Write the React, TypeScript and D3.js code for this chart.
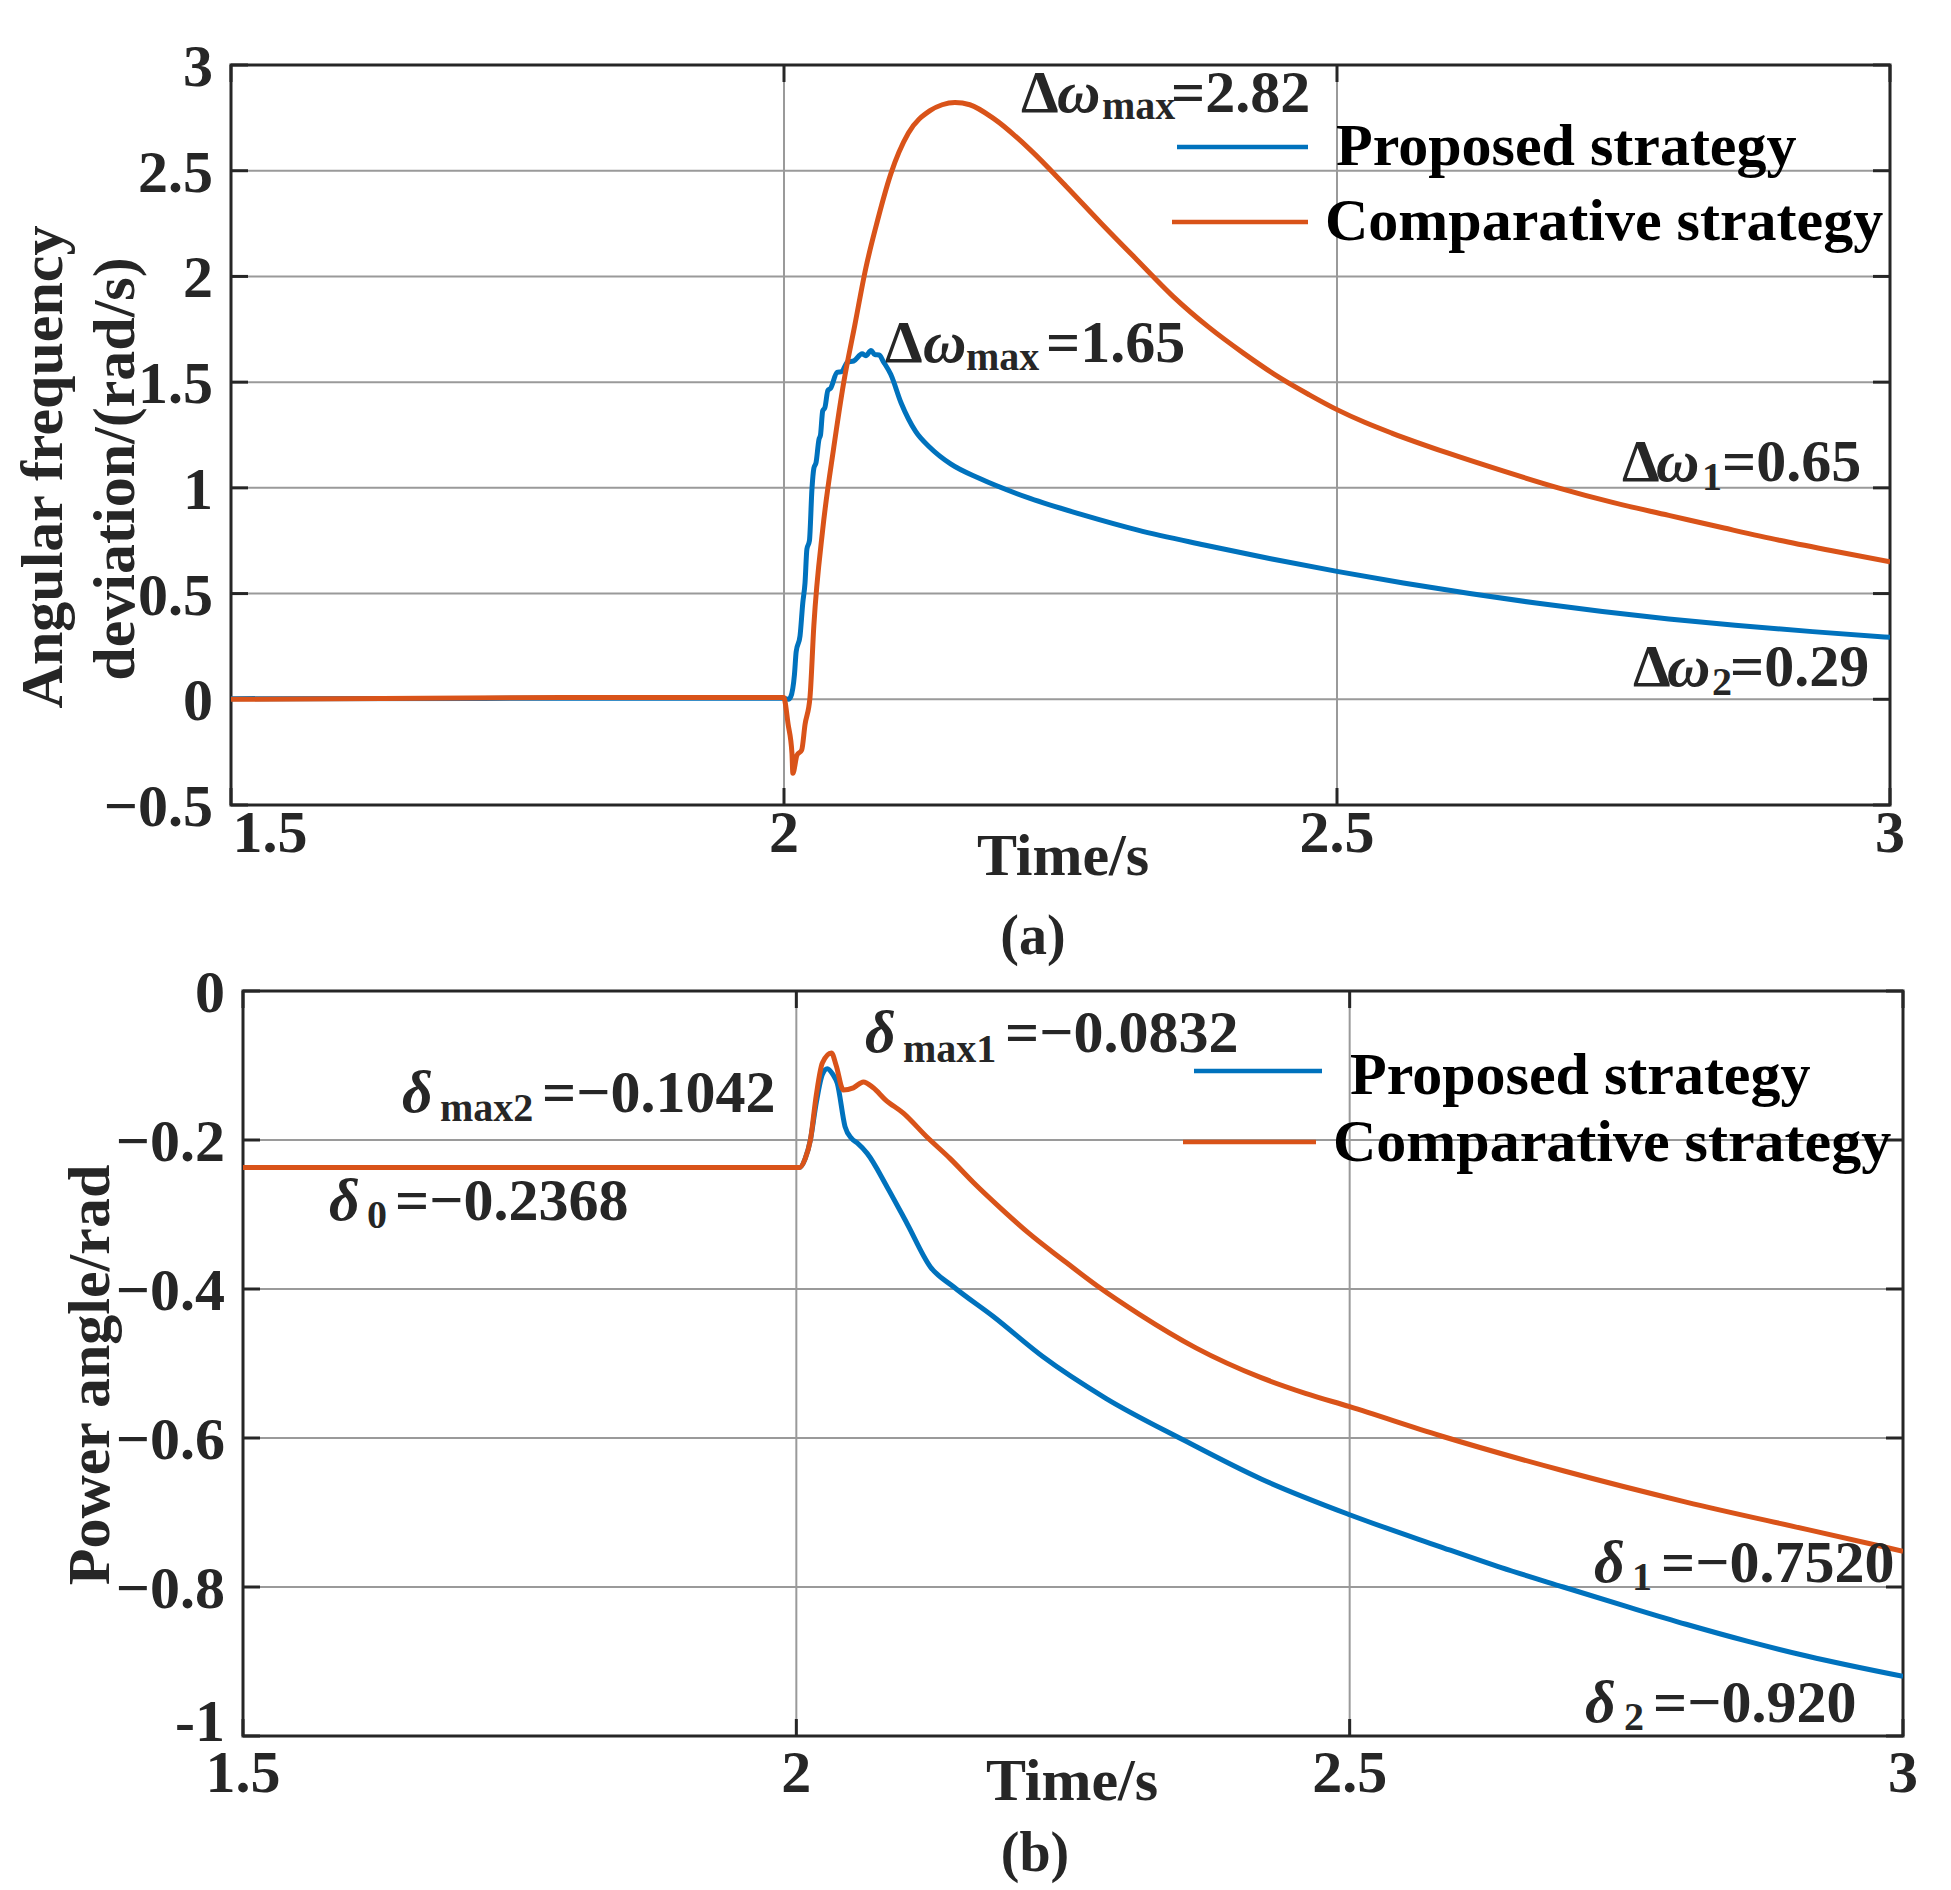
import * as d3 from "d3";

type Pt = [number, number];

const FONT = '"Liberation Serif", "Times New Roman", serif';
const BLUE = "#0072BD";
const ORANGE = "#D95319";
const AXIS = "#262626";
const GRID = "#9a9a9a";

const X_TICKS = [1.5, 2, 2.5, 3];
const X_TICK_LABELS = ["1.5", "2", "2.5", "3"];
const FREQ_TICKS = [-0.5, 0, 0.5, 1, 1.5, 2, 2.5, 3];
const FREQ_TICK_LABELS = ["−0.5", "0", "0.5", "1", "1.5", "2", "2.5", "3"];
const ANGLE_TICKS = [-1, -0.8, -0.6, -0.4, -0.2, 0];
const ANGLE_TICK_LABELS = ["-1", "−0.8", "−0.6", "−0.4", "−0.2", "0"];
const SERIES_NAMES = ["Proposed strategy", "Comparative strategy"];

// (a) angular frequency deviation, rad/s
const proposedFreq: Pt[] = [
  [1.5, 0.003], [2.0, 0.005], [2.004, 0.0], [2.0061, 0.012], [2.0095, 0.12], [2.011, 0.225],
  [2.0145, 0.3], [2.017, 0.457], [2.019, 0.55], [2.0207, 0.71], [2.023, 0.75], [2.0253, 0.997],
  [2.027, 1.093], [2.029, 1.12], [2.0316, 1.229], [2.033, 1.25], [2.035, 1.364], [2.037, 1.38],
  [2.0397, 1.461], [2.042, 1.47], [2.048, 1.546], [2.052, 1.55], [2.0577, 1.596], [2.063, 1.6],
  [2.0706, 1.634], [2.074, 1.625], [2.0787, 1.65], [2.082, 1.63], [2.086, 1.628], [2.09, 1.596],
  [2.0965, 1.537], [2.106, 1.4], [2.119, 1.267], [2.132, 1.191], [2.151, 1.112], [2.177, 1.044],
  [2.2225, 0.95], [2.271, 0.871], [2.32, 0.8], [2.38, 0.73], [2.44, 0.665], [2.5, 0.605],
  [2.56, 0.55], [2.62, 0.5], [2.68, 0.455], [2.74, 0.415], [2.8, 0.38], [2.86, 0.35],
  [2.93, 0.32], [3.0, 0.293],
];

const comparativeFreq: Pt[] = [
  [1.5, 0.0], [1.8, 0.008], [2.0, 0.008], [2.0005, 0.0], [2.0036, -0.114], [2.0072, -0.256],
  [2.008, -0.35], [2.0117, -0.265], [2.016, -0.24], [2.019, -0.12], [2.0235, 0.01], [2.027, 0.35],
  [2.035, 0.803], [2.045, 1.191], [2.054, 1.499], [2.064, 1.769], [2.074, 2.04], [2.083, 2.233],
  [2.0965, 2.484], [2.1125, 2.678], [2.132, 2.784], [2.143, 2.812], [2.1546, 2.823], [2.168, 2.812],
  [2.19, 2.745], [2.2225, 2.6], [2.255, 2.427], [2.2867, 2.252], [2.319, 2.079], [2.3517, 1.906],
  [2.384, 1.76], [2.416, 1.635], [2.4485, 1.52], [2.475, 1.44], [2.5, 1.37], [2.525, 1.31],
  [2.55, 1.258], [2.6, 1.165], [2.65, 1.08], [2.7, 1.0], [2.75, 0.93], [2.8, 0.87],
  [2.85, 0.81], [2.9, 0.752], [2.95, 0.7], [3.0, 0.65],
];

// (b) power angle, rad
const proposedAngle: Pt[] = [
  [1.5, -0.2368], [2.003, -0.2368], [2.008, -0.225], [2.0127, -0.2], [2.018, -0.15], [2.0235, -0.112],
  [2.028, -0.1042], [2.033, -0.112], [2.037, -0.124], [2.044, -0.182], [2.05, -0.198], [2.055, -0.204],
  [2.064, -0.218], [2.082, -0.263], [2.1, -0.312], [2.121, -0.37], [2.142, -0.397], [2.178, -0.437],
  [2.222, -0.49], [2.28, -0.547], [2.349, -0.602], [2.42, -0.655], [2.5, -0.703], [2.58, -0.745],
  [2.637, -0.774], [2.693, -0.8], [2.75, -0.826], [2.804, -0.85], [2.86, -0.873], [2.914, -0.893],
  [3.0, -0.92],
];

const comparativeAngle: Pt[] = [
  [1.5, -0.2368], [2.003, -0.2368], [2.008, -0.225], [2.0127, -0.2], [2.018, -0.14], [2.0235, -0.0967],
  [2.0317, -0.0832], [2.036, -0.1], [2.0425, -0.133], [2.0515, -0.13], [2.0606, -0.122], [2.0696, -0.13],
  [2.0805, -0.146], [2.0967, -0.164], [2.118, -0.196], [2.139, -0.225], [2.16, -0.257], [2.185, -0.292],
  [2.21, -0.325], [2.24, -0.36], [2.272, -0.396], [2.31, -0.434], [2.361, -0.479], [2.42, -0.519],
  [2.46, -0.54], [2.5, -0.558], [2.582, -0.597], [2.693, -0.644], [2.804, -0.686], [2.914, -0.723],
  [3.0, -0.752],
];

type Part = { t: string; x: number; dy?: number; size?: number; italic?: boolean };
type Note = { y: number; parts: Part[] };

const freqNotes: Note[] = [
  { y: 112, parts: [{ t: "Δ", x: 1021 }, { t: "ω", x: 1057, italic: true }, { t: "max", x: 1102, dy: 7, size: 40 }, { t: "=2.82", x: 1171 }] },
  { y: 362, parts: [{ t: "Δ", x: 885 }, { t: "ω", x: 923, italic: true }, { t: "max", x: 966, dy: 8, size: 40 }, { t: "=1.65", x: 1046 }] },
  { y: 481, parts: [{ t: "Δ", x: 1622 }, { t: "ω", x: 1656, italic: true }, { t: "1", x: 1702, dy: 9, size: 40 }, { t: "=0.65", x: 1722 }] },
  { y: 686, parts: [{ t: "Δ", x: 1633 }, { t: "ω", x: 1667, italic: true }, { t: "2", x: 1712, dy: 9, size: 40 }, { t: "=0.29", x: 1730 }] },
];

const angleNotes: Note[] = [
  { y: 1052, parts: [{ t: "δ", x: 865, italic: true }, { t: "max1", x: 903, dy: 10, size: 40 }, { t: "=−0.0832", x: 1005 }] },
  { y: 1112, parts: [{ t: "δ", x: 402, italic: true }, { t: "max2", x: 440, dy: 9, size: 40 }, { t: "=−0.1042", x: 542 }] },
  { y: 1220, parts: [{ t: "δ", x: 329, italic: true }, { t: "0", x: 367, dy: 8, size: 40 }, { t: "=−0.2368", x: 395 }] },
  { y: 1582, parts: [{ t: "δ", x: 1594, italic: true }, { t: "1", x: 1632, dy: 8, size: 40 }, { t: "=−0.7520", x: 1661 }] },
  { y: 1722, parts: [{ t: "δ", x: 1585, italic: true }, { t: "2", x: 1624, dy: 8, size: 40 }, { t: "=−0.920", x: 1653 }] },
];

type Box = { left: number; right: number; top: number; bottom: number };

const BOX_A: Box = { left: 231, right: 1890, top: 65, bottom: 805 };
const BOX_B: Box = { left: 243, right: 1903, top: 991, bottom: 1736 };
const TICK_LEN = 17;

function Frame({
  box, x, y, yTicks, yLabels, xLabelGap, firstXShift = 0, lastYShift = 0,
}: {
  box: Box;
  x: d3.ScaleLinear<number, number>;
  y: d3.ScaleLinear<number, number>;
  yTicks: number[];
  yLabels: string[];
  xLabelGap: number;
  firstXShift?: number;
  lastYShift?: number;
}) {
  return (
    <g>
      <rect x={box.left} y={box.top} width={box.right - box.left} height={box.bottom - box.top} fill="#fff" />
      {X_TICKS.slice(1, -1).map((t) => (
        <line key={`gx${t}`} x1={x(t)} x2={x(t)} y1={box.top} y2={box.bottom} stroke={GRID} strokeWidth={2} />
      ))}
      {yTicks.slice(1, -1).map((t) => (
        <line key={`gy${t}`} x1={box.left} x2={box.right} y1={y(t)} y2={y(t)} stroke={GRID} strokeWidth={2} />
      ))}
      {X_TICKS.map((t) => (
        <g key={`tx${t}`} stroke={AXIS} strokeWidth={3}>
          <line x1={x(t)} x2={x(t)} y1={box.bottom} y2={box.bottom - TICK_LEN} />
          <line x1={x(t)} x2={x(t)} y1={box.top} y2={box.top + TICK_LEN} />
        </g>
      ))}
      {yTicks.map((t) => (
        <g key={`ty${t}`} stroke={AXIS} strokeWidth={3}>
          <line x1={box.left} x2={box.left + TICK_LEN} y1={y(t)} y2={y(t)} />
          <line x1={box.right} x2={box.right - TICK_LEN} y1={y(t)} y2={y(t)} />
        </g>
      ))}
      <rect x={box.left} y={box.top} width={box.right - box.left} height={box.bottom - box.top} fill="none" stroke={AXIS} strokeWidth={3} />
      {X_TICKS.map((t, i) => (
        <text key={`lx${t}`} x={x(t) + (i === 0 ? firstXShift : 0)} y={box.bottom + xLabelGap} textAnchor="middle" fontSize={60} fontWeight="bold" fill={AXIS}>
          {X_TICK_LABELS[i]}
        </text>
      ))}
      {yTicks.map((t, i) => (
        <text key={`ly${t}`} x={box.left - 18} y={y(t) + 21 + (i === 0 ? lastYShift : 0)} textAnchor="end" fontSize={60} fontWeight="bold" fill={AXIS}>
          {yLabels[i]}
        </text>
      ))}
    </g>
  );
}

function Notes({ notes }: { notes: Note[] }) {
  return (
    <g fill={AXIS} fontWeight="bold">
      {notes.map((n, i) => (
        <g key={i}>
          {n.parts.map((p, j) => (
            <text key={j} x={p.x} y={n.y + (p.dy ?? 0)} fontSize={p.size ?? 60} fontStyle={p.italic ? "italic" : "normal"}>
              {p.t}
            </text>
          ))}
        </g>
      ))}
    </g>
  );
}

function Legend({ rows }: { rows: { color: string; x1: number; x2: number; ly: number; tx: number; ty: number; label: string }[] }) {
  return (
    <g>
      {rows.map((r) => (
        <g key={r.label}>
          <line x1={r.x1} x2={r.x2} y1={r.ly} y2={r.ly} stroke={r.color} strokeWidth={4.5} />
          <text x={r.tx} y={r.ty} fontSize={60} fontWeight="bold" fill="#000">
            {r.label}
          </text>
        </g>
      ))}
    </g>
  );
}

export default function App() {
  const xA = d3.scaleLinear().domain([1.5, 3]).range([BOX_A.left, BOX_A.right]);
  const yA = d3.scaleLinear().domain([-0.5, 3]).range([BOX_A.bottom, BOX_A.top]);
  const xB = d3.scaleLinear().domain([1.5, 3]).range([BOX_B.left, BOX_B.right]);
  const yB = d3.scaleLinear().domain([-1, 0]).range([BOX_B.bottom, BOX_B.top]);

  const lineA = d3.line<Pt>().x((d) => xA(d[0])).y((d) => yA(d[1])).curve(d3.curveMonotoneX);
  const lineB = d3.line<Pt>().x((d) => xB(d[0])).y((d) => yB(d[1])).curve(d3.curveMonotoneX);

  return (
    <div style={{ position: "absolute", left: 0, top: 0 }}>
      <svg width={1951} height={1890} viewBox="0 0 1951 1890" fontFamily={FONT} style={{ display: "block", background: "#fff" }}>
        <defs>
          <clipPath id="clipA">
            <rect x={BOX_A.left} y={BOX_A.top} width={BOX_A.right - BOX_A.left} height={BOX_A.bottom - BOX_A.top} />
          </clipPath>
          <clipPath id="clipB">
            <rect x={BOX_B.left} y={BOX_B.top} width={BOX_B.right - BOX_B.left} height={BOX_B.bottom - BOX_B.top} />
          </clipPath>
        </defs>

        {/* (a) angular frequency */}
        <Frame box={BOX_A} x={xA} y={yA} yTicks={FREQ_TICKS} yLabels={FREQ_TICK_LABELS} xLabelGap={47} firstXShift={39} />
        <g clipPath="url(#clipA)" fill="none" strokeWidth={5} strokeLinejoin="round">
          <path d={lineA(proposedFreq) ?? undefined} stroke={BLUE} />
          <path d={lineA(comparativeFreq) ?? undefined} stroke={ORANGE} />
        </g>
        <Legend
          rows={[
            { color: BLUE, x1: 1177, x2: 1308, ly: 147, tx: 1336, ty: 165, label: SERIES_NAMES[0] },
            { color: ORANGE, x1: 1172, x2: 1308, ly: 222, tx: 1325, ty: 240, label: SERIES_NAMES[1] },
          ]}
        />
        <Notes notes={freqNotes} />
        <text x={1063} y={875} textAnchor="middle" fontSize={60} fontWeight="bold" fill={AXIS}>Time/s</text>
        <text x={1033} y={954} textAnchor="middle" fontSize={56} fontWeight="bold" fill={AXIS}>(a)</text>
        <text transform="translate(62 467) rotate(-90)" textAnchor="middle" fontSize={60} fontWeight="bold" fill={AXIS}>Angular frequency</text>
        <text transform="translate(134 469) rotate(-90)" textAnchor="middle" fontSize={60} fontWeight="bold" fill={AXIS}>deviation/(rad/s)</text>

        {/* (b) power angle */}
        <Frame box={BOX_B} x={xB} y={yB} yTicks={ANGLE_TICKS} yLabels={ANGLE_TICK_LABELS} xLabelGap={56} lastYShift={-16} />
        <g clipPath="url(#clipB)" fill="none" strokeWidth={5} strokeLinejoin="round">
          <path d={lineB(proposedAngle) ?? undefined} stroke={BLUE} />
          <path d={lineB(comparativeAngle) ?? undefined} stroke={ORANGE} />
        </g>
        <Legend
          rows={[
            { color: BLUE, x1: 1194, x2: 1322, ly: 1071, tx: 1350, ty: 1094, label: SERIES_NAMES[0] },
            { color: ORANGE, x1: 1183, x2: 1316, ly: 1142, tx: 1333, ty: 1161, label: SERIES_NAMES[1] },
          ]}
        />
        <Notes notes={angleNotes} />
        <text x={1072} y={1800} textAnchor="middle" fontSize={60} fontWeight="bold" fill={AXIS}>Time/s</text>
        <text x={1035} y={1871} textAnchor="middle" fontSize={56} fontWeight="bold" fill={AXIS}>(b)</text>
        <text transform="translate(109 1375) rotate(-90)" textAnchor="middle" fontSize={60} fontWeight="bold" fill={AXIS}>Power angle/rad</text>
      </svg>
    </div>
  );
}
